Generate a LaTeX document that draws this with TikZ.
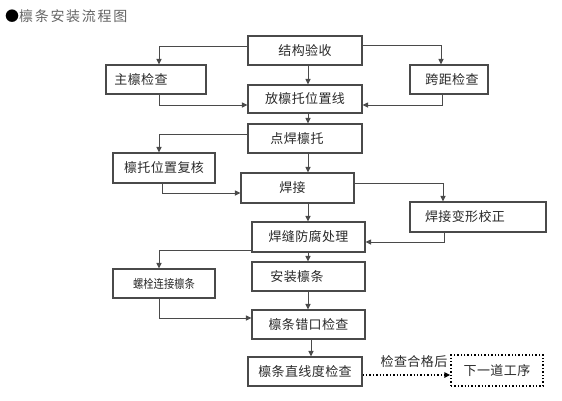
\documentclass[tikz,border=0pt]{standalone}
\usepackage{fontspec}
\setmainfont{Noto Sans CJK SC}
\usetikzlibrary{arrows.meta}
\definecolor{ln}{HTML}{4A4A4A}
\definecolor{tx}{HTML}{2A2A2A}
\newcommand{\bxfont}{\fontsize{13}{15}\selectfont\addfontfeature{LetterSpace=3}}
\tikzset{
  box/.style={draw=ln, line width=1.1pt, rectangle, inner sep=0pt, text=tx, font=\bxfont},
  arr/.style={draw=ln, line width=1pt, -{Triangle[length=5.5pt,width=5pt]}},
  dotbox/.style={draw=black, line width=1.4pt, dotted, rectangle, inner sep=0pt, text=tx, font=\bxfont},
  dotarr/.style={draw=black, line width=1.4pt, dotted, -{Triangle[length=6pt,width=5.5pt]}},
}
\begin{document}
\begin{tikzpicture}[x=1pt,y=-1pt]
\useasboundingbox[fill=white] (0,0) rectangle (562,400);
% title
\node[anchor=west, inner sep=0pt] (title) at (5,16) {\fontsize{14}{16}\selectfont\textcolor{black}{●}\addfontfeature{LetterSpace=12}\textcolor{black!60}{檩条安装流程图}};
% main column
\node[box, minimum width=114, minimum height=29] (jg) at (305,50.5) {结构验收};
\node[box, minimum width=114, minimum height=28] (fang) at (305,99) {放檩托位置线};
\node[box, minimum width=114, minimum height=29] (dh) at (305,138.5) {\hspace*{-16pt}点焊檩托};
\node[box, minimum width=113, minimum height=30] (hj) at (297.5,188) {\hspace*{-10pt}焊接};
\node[box, minimum width=113, minimum height=30] (hf) at (308.5,237) {焊缝防腐处理};
\node[box, minimum width=113, minimum height=29] (az) at (308.5,276.5) {\hspace*{-23pt}安装檩条};
\node[box, minimum width=113, minimum height=29] (ck) at (308.5,324.5) {檩条错口检查};
\node[box, minimum width=114, minimum height=29] (zx) at (305,371.5) {檩条直线度检查};
% side boxes
\node[box, minimum width=100, minimum height=29] (zl) at (156,79.5) {\hspace*{-30pt}主檩检查};
\node[box, minimum width=78, minimum height=29] (kj) at (449,79.5) {\hspace*{6pt}跨距检查};
\node[box, minimum width=102, minimum height=30] (tw) at (164,168) {檩托位置复核};
\node[box, minimum width=136, minimum height=30] (bx) at (478,217) {\hspace*{-26pt}焊接变形校正};
\node[box, minimum width=102, minimum height=29, font=\fontsize{12}{14}\selectfont\addfontfeature{FakeStretch=0.86}] (ls) at (164,283.5) {螺栓连接檩条};
\node[dotbox, minimum width=92, minimum height=31] (xy) at (497,370.5) {下一道工序};
\node[inner sep=0pt, text=tx, font=\bxfont] (hg) at (414,362) {检查合格后};
% main vertical arrows
\draw[arr] ([xshift=3pt]jg.south) -- ([xshift=3pt]fang.north);
\draw[arr] ([xshift=3pt]fang.south) -- ([xshift=3pt]dh.north);
\draw[arr] ([xshift=3pt]dh.south) -- ([xshift=3pt]dh.south |- hj.north);
\draw[arr] ([xshift=10.5pt]hj.south) -- ([xshift=-0.5pt]hf.north);
\draw[arr] ([xshift=-0.5pt]hf.south) -- ([xshift=-0.5pt]az.north);
\draw[arr] ([xshift=-0.5pt]az.south) -- ([xshift=-0.5pt]ck.north);
\draw[arr] ([xshift=2.5pt]ck.south) -- ([xshift=2.5pt]ck.south |- zx.north);
% side loops
\draw[arr] ([yshift=4.5pt]jg.west) -| ([xshift=3pt]zl.north);
\draw[arr] ([xshift=3pt]zl.south) |- ([yshift=-6pt]fang.west);
\draw[arr] ([yshift=5.5pt]jg.east) -| ([xshift=-8pt]kj.north);
\draw[arr] ([xshift=-7pt]kj.south) |- ([yshift=-6pt]fang.east);
\draw[arr] ([yshift=4.5pt]dh.west) -| ([xshift=-5pt]tw.north);
\draw[arr] ([xshift=-2pt]tw.south) |- ([yshift=-5pt]hj.west);
\draw[arr] ([yshift=5pt]hj.east) -| ([xshift=-35pt]bx.north);
\draw[arr] ([xshift=-34pt]bx.south) |- ([yshift=-5pt]hf.east);
\draw[arr] ([yshift=-13pt]hf.west) -| ([xshift=-5pt]ls.north);
\draw[arr] ([xshift=-5pt]ls.south) |- ([yshift=6.5pt]ck.west);
% dotted
\draw[dotarr] ([yshift=-3.5pt]zx.east) -- ([yshift=-4.5pt]xy.west);
\end{tikzpicture}
\end{document}
